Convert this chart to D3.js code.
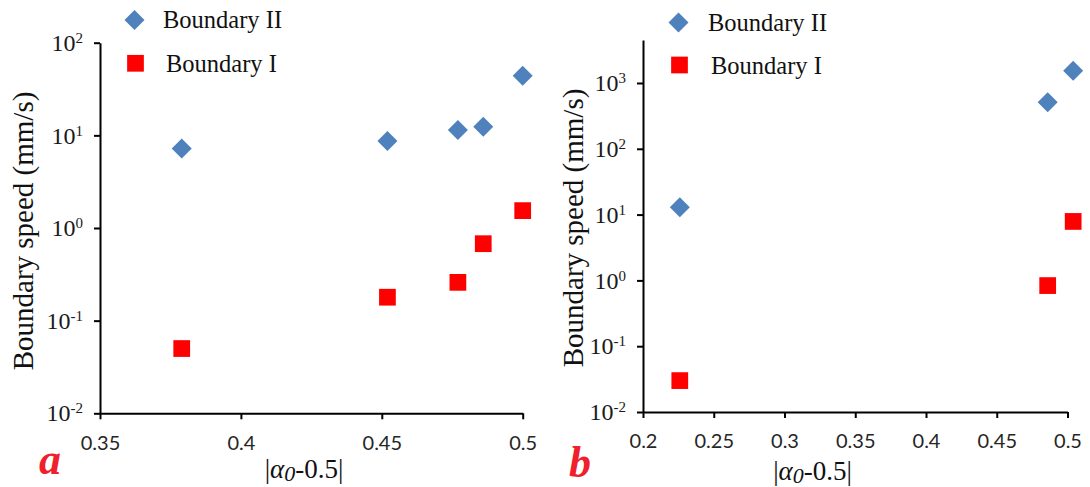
<!DOCTYPE html>
<html>
<head>
<meta charset="utf-8">
<script src="https://cdn.jsdelivr.net/npm/d3@7"></script>
<style>
  html, body { margin: 0; padding: 0; background: #fff; }
  svg { display: block; }
</style>
</head>
<body>
<svg id="chart" width="1090" height="487"></svg>
<script>
// Panel a: |alpha0 - 0.5| vs boundary speed
const alphaA = [0.379, 0.452, 0.477, 0.486, 0.500];
const boundaryIIA = [7.2, 8.7, 11.4, 12.4, 44];
const boundaryIA = [0.050, 0.179, 0.259, 0.677, 1.54];
const xTicksA = [0.35, 0.4, 0.45, 0.5];
const yTicksA = [0.01, 0.1, 1, 10, 100];

// Panel b
const alphaB = [0.226, 0.486, 0.504];
const boundaryIIB = [12.9, 508, 1540];
const boundaryIB = [0.030, 0.834, 7.87];
const xTicksB = [0.2, 0.25, 0.3, 0.35, 0.4, 0.45, 0.5];
const yTicksB = [0.01, 0.1, 1, 10, 100, 1000];

const seriesNames = ["Boundary II", "Boundary I"];
const panelLetters = ["a", "b"];

const BLUE = "#4f81bd";
const RED = "#ff0000";
const SERIF = "'Liberation Serif', 'Times New Roman', serif";
const SANS = "Lato, 'Open Sans', sans-serif";

const svg = d3.select("#chart");

const diamond = d3.symbol(d3.symbolSquare, 200);
const square = d3.symbol(d3.symbolSquare, 280);

function drawPanel(p) {
  const g = svg.append("g");
  const x = d3.scaleLinear().domain(p.xDomain).range([p.left, p.right]);
  const y = d3.scaleLog().domain(p.yDomain).range([p.bottom, p.top]);

  // y axis with 10^n labels
  const ya = g.append("g")
    .attr("transform", `translate(${p.left},0)`)
    .call(d3.axisLeft(y).tickValues(p.yTicks).tickSize(6).tickSizeOuter(0).tickPadding(11));
  ya.select(".domain").attr("stroke", "#000").attr("stroke-width", 2);
  ya.selectAll(".tick line").attr("stroke", "#000").attr("stroke-width", 2);
  ya.selectAll(".tick text")
    .attr("font-family", SERIF)
    .attr("font-size", 24)
    .attr("fill", "#1a1a1a")
    .text(null)
    .each(function(d) {
      const t = d3.select(this);
      t.append("tspan").text("10");
      t.append("tspan").attr("font-size", 15).attr("dy", -8).text(Math.round(Math.log10(d)));
    });

  // x axis
  const xa = g.append("g")
    .attr("transform", `translate(0,${p.bottom})`)
    .call(d3.axisBottom(x).tickValues(p.xTicks).tickSize(6).tickSizeOuter(0).tickFormat(d => String(d)));
  xa.select(".domain").attr("stroke", "#000").attr("stroke-width", 2);
  xa.selectAll(".tick line").attr("stroke", "#000").attr("stroke-width", 2);
  xa.selectAll(".tick text")
    .attr("font-family", SANS)
    .attr("font-size", 20)
    .attr("fill", "#262626")
    .attr("y", p.xLabelDrop)
    .attr("dy", null);

  // axis titles
  g.append("text")
    .attr("transform", `translate(${p.yTitleX},${p.yTitleY}) rotate(-90)`)
    .attr("text-anchor", "middle")
    .attr("font-family", SERIF)
    .attr("font-size", 29)
    .attr("fill", "#111")
    .text("Boundary speed (mm/s)");

  const xt = g.append("text")
    .attr("x", p.xTitleX).attr("y", p.xTitleY)
    .attr("text-anchor", "middle")
    .attr("font-family", SERIF)
    .attr("font-size", 27)
    .attr("fill", "#111");
  xt.append("tspan").text("|");
  xt.append("tspan").attr("font-style", "italic").text("α");
  xt.append("tspan").attr("font-style", "italic").attr("font-size", 22).attr("dy", 3).text("0");
  xt.append("tspan").attr("dy", -3).text("-0.5|");

  // panel letter
  g.append("text")
    .attr("x", p.letterX).attr("y", p.letterY)
    .attr("font-family", SERIF)
    .attr("font-style", "italic")
    .attr("font-weight", "bold")
    .attr("font-size", 44)
    .attr("fill", "#f0202a")
    .text(p.letter);

  // points
  g.append("g").selectAll("path")
    .data(p.alpha.map((a, i) => [a, p.bI[i]]))
    .join("path")
    .attr("d", square)
    .attr("fill", RED)
    .attr("transform", d => `translate(${x(d[0])},${y(d[1])})`);

  g.append("g").selectAll("path")
    .data(p.alpha.map((a, i) => [a, p.bII[i]]))
    .join("path")
    .attr("d", diamond)
    .attr("fill", BLUE)
    .attr("transform", d => `translate(${x(d[0])},${y(d[1])}) rotate(45)`);

  // legend
  const lg = g.append("g");
  lg.append("path").attr("d", diamond).attr("fill", BLUE)
    .attr("transform", `translate(${p.legX},${p.legY1}) rotate(45)`);
  lg.append("text").attr("x", p.legTextX).attr("y", p.legY1 + 8)
    .attr("font-family", SERIF).attr("font-size", 24.5).attr("fill", "#111")
    .text(seriesNames[0]);
  lg.append("path").attr("d", square).attr("fill", RED)
    .attr("transform", `translate(${p.legX + 1},${p.legY2})`);
  lg.append("text").attr("x", p.legTextX + 3).attr("y", p.legY2 + 8.5)
    .attr("font-family", SERIF).attr("font-size", 24.5).attr("fill", "#111")
    .text(seriesNames[1]);
}

drawPanel({
  alpha: alphaA, bII: boundaryIIA, bI: boundaryIA,
  xDomain: [0.35, 0.5], yDomain: [0.01, 100],
  xTicks: xTicksA, yTicks: yTicksA,
  left: 100, right: 522.7, top: 42.7, bottom: 413.3,
  xLabelDrop: 37,
  yTitleX: 33, yTitleY: 231,
  xTitleX: 304, xTitleY: 478,
  letter: panelLetters[0], letterX: 39, letterY: 474,
  legX: 134.5, legY1: 20, legY2: 63.3, legTextX: 163
});

drawPanel({
  alpha: alphaB, bII: boundaryIIB, bI: boundaryIB,
  xDomain: [0.2, 0.5], yDomain: [0.01, 4500],
  xTicks: xTicksB, yTicks: yTicksB,
  left: 643, right: 1067.5, top: 40, bottom: 412,
  xLabelDrop: 36,
  yTitleX: 583, yTitleY: 228,
  xTitleX: 812.5, xTitleY: 480,
  letter: panelLetters[1], letterX: 569, letterY: 477,
  legX: 678.5, legY1: 22.5, legY2: 65, legTextX: 708
});
</script>
</body>
</html>
